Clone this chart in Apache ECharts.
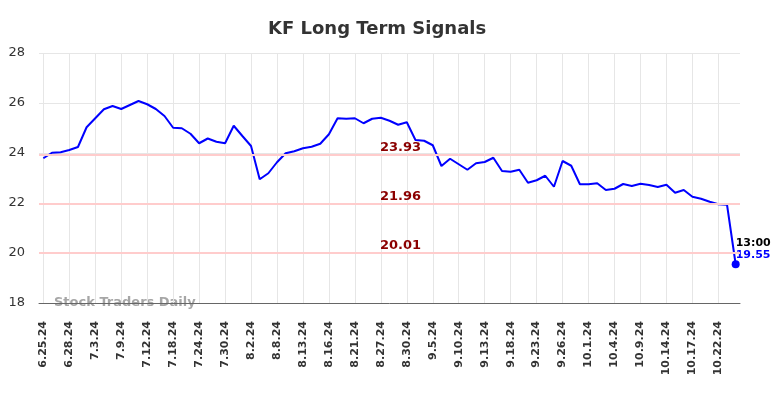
<!DOCTYPE html>
<html>
<head>
<meta charset="utf-8">
<title>KF Long Term Signals</title>
<script src="https://cdn.jsdelivr.net/npm/echarts@6/dist/echarts.min.js"></script>
<style>
  html, body { margin: 0; padding: 0; background: #fff; }
  #chart { width: 784px; height: 398px; }
</style>
</head>
<body>
<div id="chart"></div>
<script>
// 交易日（每三个显示一个标签）
const dates = [
  '6.25.24', '6.26.24', '6.27.24', '6.28.24', '7.1.24', '7.2.24', '7.3.24', '7.5.24', '7.8.24', '7.9.24',
  '7.10.24', '7.11.24', '7.12.24', '7.15.24', '7.16.24', '7.18.24', '7.19.24', '7.22.24', '7.24.24', '7.25.24',
  '7.26.24', '7.30.24', '7.31.24', '8.1.24', '8.2.24', '8.5.24', '8.6.24', '8.8.24', '8.9.24', '8.12.24',
  '8.13.24', '8.14.24', '8.15.24', '8.16.24', '8.19.24', '8.20.24', '8.21.24', '8.22.24', '8.23.24', '8.27.24',
  '8.28.24', '8.29.24', '8.30.24', '9.3.24', '9.4.24', '9.5.24', '9.6.24', '9.9.24', '9.10.24', '9.11.24',
  '9.12.24', '9.13.24', '9.16.24', '9.17.24', '9.18.24', '9.19.24', '9.20.24', '9.23.24', '9.24.24', '9.25.24',
  '9.26.24', '9.27.24', '9.30.24', '10.1.24', '10.2.24', '10.3.24', '10.4.24', '10.7.24', '10.8.24', '10.9.24',
  '10.10.24', '10.11.24', '10.14.24', '10.15.24', '10.16.24', '10.17.24', '10.18.24', '10.21.24', '10.22.24', '10.23.24',
  '10.24.24'
]

// 收盘价
const prices = [
  23.79, 24.01, 24.03, 24.12, 24.24, 25.03, 25.39, 25.75, 25.88, 25.76,
  25.92, 26.08, 25.95, 25.76, 25.48, 25.01, 24.99, 24.77, 24.39, 24.58,
  24.45, 24.39, 25.09, 24.68, 24.28, 22.95, 23.19, 23.63, 23.99, 24.07,
  24.19, 24.25, 24.37, 24.75, 25.39, 25.37, 25.39, 25.19, 25.37, 25.41,
  25.29, 25.13, 25.23, 24.52, 24.49, 24.31, 23.48, 23.77, 23.55, 23.33,
  23.59, 23.64, 23.81, 23.28, 23.25, 23.33, 22.81, 22.91, 23.09, 22.65,
  23.68, 23.49, 22.75, 22.75, 22.79, 22.52, 22.57, 22.76, 22.68, 22.77,
  22.72, 22.64, 22.73, 22.41, 22.52, 22.25, 22.17, 22.05, 21.95, 21.93,
  19.55
]

// 信号线
const signals = [23.93, 21.96, 20.01]
const lastTime = '13:00'

const yTicks = { min: 18, max: 28, interval: 2 }

const font = 'DejaVu Sans'
const myChart = echarts.init(document.getElementById('chart'))

// 最后一个点单独加标记和标签
const seriesData = prices.map((v, i) => {
  if (i !== prices.length - 1) return v
  return {
    value: v,
    symbol: 'circle',
    symbolSize: 8,
    itemStyle: { color: '#0000ff' },
    label: {
      show: true,
      position: 'right',
      distance: 0,
      offset: [-4, -15],
      formatter: () => `{t|${lastTime}}\n{v|${v.toFixed(2)}}`,
      rich: {
        t: { color: '#000', fontSize: 11, fontWeight: 'bold', fontFamily: font, lineHeight: 12 },
        v: { color: '#0000ff', fontSize: 11, fontWeight: 'bold', fontFamily: font, lineHeight: 12 },
      },
    },
  }
})

const option = {
  animation: false,
  title: {
    text: 'KF Long Term Signals',
    left: 263,
    top: 15,
    textStyle: { fontFamily: font, fontSize: 18, fontWeight: 'bold', color: '#333' },
  },
  grid: { left: 39, right: 44, top: 53, bottom: 95 },
  xAxis: {
    type: 'category',
    data: dates,
    boundaryGap: true,
    axisLine: { lineStyle: { color: '#666', width: 1 } },
    axisTick: { show: false, alignWithLabel: true, interval: 2 },
    axisLabel: {
      interval: 2,
      rotate: 90,
      margin: 18,
      fontFamily: font,
      fontSize: 11,
      fontWeight: 'bold',
      color: '#333',
    },
    splitLine: { show: true, interval: 2, alignWithLabel: true, lineStyle: { color: '#e6e6e6' } },
  },
  yAxis: {
    type: 'value',
    min: yTicks.min,
    max: yTicks.max,
    interval: yTicks.interval,
    axisLine: { show: false },
    axisTick: { show: false },
    axisLabel: { margin: 14, fontFamily: font, fontSize: 13, color: '#333' },
    splitLine: { lineStyle: { color: '#e6e6e6' } },
  },
  graphic: [
    {
      type: 'text',
      left: 54,
      top: 296,
      silent: true,
      style: {
        text: 'Stock Traders Daily',
        fontFamily: font,
        fontSize: 13,
        fontWeight: 'bold',
        fill: 'rgba(150,150,150,0.85)',
      },
    },
  ],
  series: [
    {
      type: 'line',
      data: seriesData,
      showSymbol: true,
      showAllSymbol: true,
      symbol: 'none',
      lineStyle: { color: '#0000ff', width: 2 },
      itemStyle: { color: '#0000ff' },
      markLine: {
        silent: true,
        symbol: 'none',
        lineStyle: { color: '#ffcccc', width: 2, type: 'solid' },
        label: {
          position: 'insideStartTop',
          distance: [341, 1],
          fontFamily: font,
          fontSize: 13,
          fontWeight: 'bold',
          color: '#8b0000',
          formatter: (p) => p.value.toFixed(2),
        },
        data: signals.map((s) => ({ yAxis: s })),
      },
    },
  ],
}
myChart.setOption(option)
</script>
</body>
</html>
